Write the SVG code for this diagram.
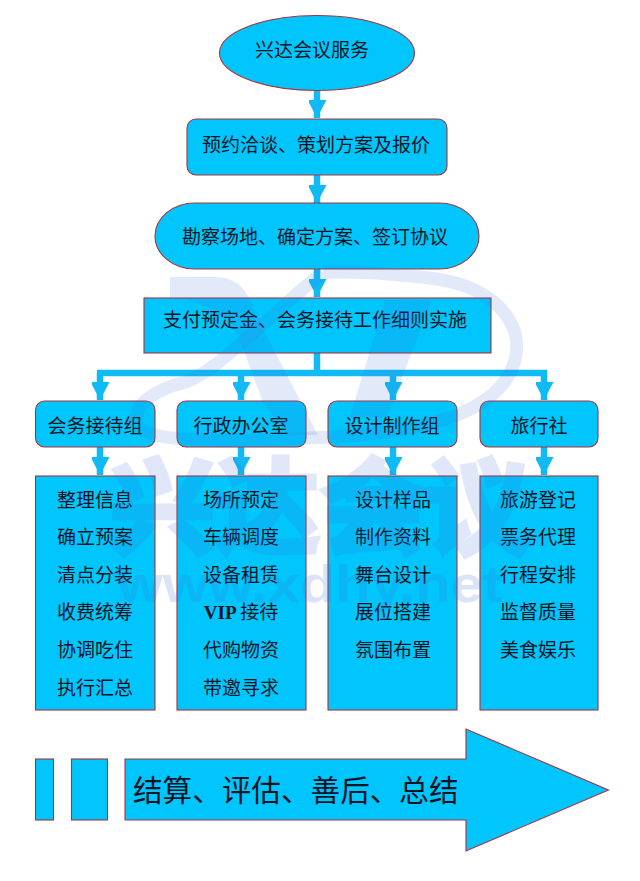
<svg xmlns="http://www.w3.org/2000/svg" width="640" height="881" viewBox="0 0 640 881">
<defs>
<marker id="ah" markerUnits="userSpaceOnUse" markerWidth="19" markerHeight="18" refX="18" refY="9.5" orient="auto"><path d="M0 0L18 9.5L0 19Z" fill="#10baf4"/></marker>
</defs>
<style>
text{font-family:"Noto Sans CJK SC","Noto Sans CJK TC",sans-serif;font-size:19px;fill:#08141f;text-anchor:middle}
.n{fill:#00c6fd;stroke:#a8323c;stroke-width:1.1}
.c{fill:none;stroke:#10baf4;stroke-width:6.5}
.wm{fill:#3c6fd8;opacity:.15}
.ws{fill:none;stroke:#3c6fd8;opacity:.15}
.big{font-size:29.6px;text-anchor:start}
</style>
<rect width="640" height="881" fill="#fff"/>
<g id="connectors">
<path class="c" marker-end="url(#ah)" d="M317 91V118"/>
<path class="c" marker-end="url(#ah)" d="M317 175V203"/>
<path class="c" marker-end="url(#ah)" d="M317 269V297"/>
<path class="c" d="M317 353V373M97 373H547"/>
<path class="c" marker-end="url(#ah)" d="M100 373V400"/>
<path class="c" marker-end="url(#ah)" d="M241 373V400"/>
<path class="c" marker-end="url(#ah)" d="M393 373V400"/>
<path class="c" marker-end="url(#ah)" d="M544 373V400"/>
<path class="c" marker-end="url(#ah)" d="M100 447V475"/>
<path class="c" marker-end="url(#ah)" d="M241 447V475"/>
<path class="c" marker-end="url(#ah)" d="M393 447V475"/>
<path class="c" marker-end="url(#ah)" d="M544 447V475"/>
</g>
<g id="n1"><ellipse class="n" cx="317" cy="53" rx="97.5" ry="37.5"/><text x="312" y="57">兴达会议服务</text></g>
<g id="n2"><rect class="n" x="187" y="119" width="260" height="56" rx="9"/><text x="316" y="152">预约洽谈、策划方案及报价</text></g>
<g id="n3"><rect class="n" x="155" y="203" width="324" height="66" rx="40" ry="33"/><text x="315" y="244">勘察场地、确定方案、签订协议</text></g>
<g id="n4"><rect class="n" x="144" y="298" width="347" height="55"/><text x="315" y="327">支付预定金、会务接待工作细则实施</text></g>
<g id="g1"><rect class="n" x="35.500" y="401" width="119.500" height="46" rx="9"/><text x="95" y="433">会务接待组</text></g>
<g id="g2"><rect class="n" x="177" y="401" width="129" height="46" rx="9"/><text x="241" y="433">行政办公室</text></g>
<g id="g3"><rect class="n" x="328" y="401" width="129" height="46" rx="9"/><text x="392" y="433">设计制作组</text></g>
<g id="g4"><rect class="n" x="480" y="401" width="118" height="46" rx="9"/><text x="539" y="433">旅行社</text></g>
<g id="l1"><rect class="n" x="35.500" y="476" width="119.500" height="234"/>
<text x="95" y="507">整理信息</text><text x="95" y="544">确立预案</text><text x="95" y="582">清点分装</text><text x="95" y="619">收费统筹</text><text x="95" y="657">协调吃住</text><text x="95" y="695">执行汇总</text></g>
<g id="l2"><rect class="n" x="177" y="476" width="129" height="234"/>
<text x="241" y="507">场所预定</text><text x="241" y="544">车辆调度</text><text x="241" y="582">设备租赁</text><text x="241" y="619"><tspan style="font-family:'Liberation Serif',serif;font-weight:bold">VIP </tspan>接待</text><text x="241" y="657">代购物资</text><text x="241" y="695">带邀寻求</text></g>
<g id="l3"><rect class="n" x="328" y="476" width="129" height="234"/>
<text x="393" y="507">设计样品</text><text x="393" y="544">制作资料</text><text x="393" y="582">舞台设计</text><text x="393" y="619">展位搭建</text><text x="393" y="657">氛围布置</text></g>
<g id="l4"><rect class="n" x="480" y="476" width="118" height="234"/>
<text x="538" y="507">旅游登记</text><text x="538" y="544">票务代理</text><text x="538" y="582">行程安排</text><text x="538" y="619">监督质量</text><text x="538" y="657">美食娱乐</text></g>
<g id="bar1"><rect class="n" x="35.500" y="759" width="18" height="61"/></g>
<g id="bar2"><rect class="n" x="71.500" y="759" width="36" height="61"/></g>
<g id="arrow"><path class="n" d="M125 759H466V729L608.500 790L466 851V820H125Z"/><text class="big" x="133" y="801">结算、评估、善后、总结</text></g>
<g id="watermark">
<path class="wm" d="M170 277H215C240 277 250 295 256 315L318 435H287L262 400L240 340C225 310 195 298 170 298Z"/>
<path class="ws" stroke-width="13" d="M323 273C290 295 215 375 185 382C155 390 130 405 138 425C148 445 240 442 330 437C420 432 500 415 515 360C525 320 490 285 430 278C390 274 350 270 323 273"/>
<path class="wm" d="M385 300H432L387 417H350Z"/>
<text style="font-size:104px;font-weight:bold;fill:#3c6fd8;stroke:#3c6fd8;stroke-width:5;opacity:.16" x="320" y="546" textLength="420" lengthAdjust="spacingAndGlyphs">兴达会议</text>
<text style="font-family:'Liberation Sans',sans-serif;font-size:52px;font-weight:bold;fill:#3c6fd8;opacity:.18" x="310" y="602" textLength="385" lengthAdjust="spacingAndGlyphs">www.xdhy.net</text>
</g>
</svg>
